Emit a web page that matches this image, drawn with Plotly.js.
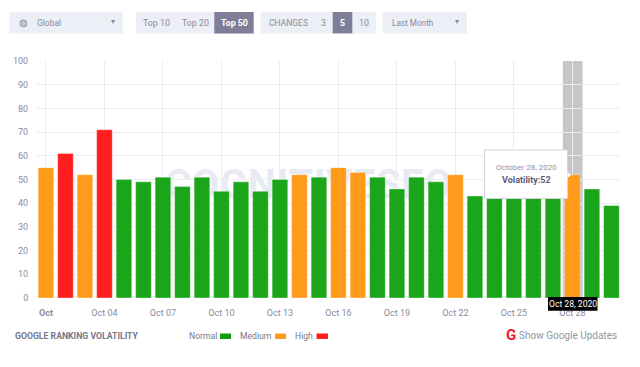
<!DOCTYPE html>
<html><head><meta charset="utf-8">
<script src="https://cdn.plot.ly/plotly-3.0.1.min.js"></script>
<style>html,body{margin:0;padding:0;background:#fff;overflow:hidden}
#wm{position:absolute;left:165px;top:160px;width:312px;font:700 40px/50px Roboto,sans-serif;color:#e9ebf4;white-space:nowrap;letter-spacing:0.6px}
#c{position:absolute;left:0;top:0;width:640px;height:367px}</style>
</head><body><div id="wm">COGNITIVESEO</div><div id="c"></div>
<script>
const days = ["Oct 01","Oct 02","Oct 03","Oct 04","Oct 05","Oct 06","Oct 07","Oct 08","Oct 09","Oct 10","Oct 11","Oct 12","Oct 13","Oct 14","Oct 15","Oct 16","Oct 17","Oct 18","Oct 19","Oct 20","Oct 21","Oct 22","Oct 23","Oct 24","Oct 25","Oct 26","Oct 27","Oct 28","Oct 29","Oct 30"];
const volatility = [55,61,52,71,50,49,51,47,51,45,49,45,50,52,51,55,53,51,46,51,49,52,43,43,44,44,45,52,46,39];
const tickDays = ["Oct 01","Oct 04","Oct 07","Oct 10","Oct 13","Oct 16","Oct 19","Oct 22","Oct 25","Oct 28"];
const tickLabels = ["<b>Oct</b>","Oct 04","Oct 07","Oct 10","Oct 13","Oct 16","Oct 19","Oct 22","Oct 25","Oct 28"];
const yTicks = [0,10,20,30,40,50,60,70,80,90,100];
const GREEN="#1aa51a", ORANGE="#ff9a1a", RED="#ff1f1f";
const level = v => v>=60 ? RED : v>=52 ? ORANGE : GREEN;
const FONT="Roboto, sans-serif";

const W=640,H=367,L=37,R=620,T=61,B=298;
const px=x=>(x-L)/(R-L), py=y=>(B-y)/(B-T);
function box(x0,y0,x1,y1,fill,line){return {type:"rect",xref:"paper",yref:"paper",x0:px(x0),x1:px(x1),y0:py(y0),y1:py(y1),fillcolor:fill,line:{width:line?1:0,color:line||fill},layer:"above"};}
function label(x,y,text,size,color,anchor,extra){return Object.assign({xref:"paper",yref:"paper",x:px(x),y:py(y),text:text,showarrow:false,xanchor:anchor||"center",yanchor:"middle",font:{family:FONT,size:size,color:color}},extra||{});}

const PANEL="#eceff6", DARK="#7e7e98", TXT="#8a8aa0";
const shapes=[
 {type:"rect",xref:"x",yref:"y",x0:26.51,x1:27.52,y0:0,y1:100,fillcolor:"rgba(120,120,120,0.42)",line:{width:0},layer:"below"},
 box(9.3,12,122.7,33.4,PANEL), box(136,12,253.7,33.4,PANEL), box(214.3,12,253.7,33.4,DARK),
 box(260.7,12,376,33.4,PANEL), box(332.7,12,352.3,33.4,DARK), box(382.7,12,467,33.4,PANEL),
 box(484.5,150,567.5,198.5,"#ffffff","#d3d3e2"),
 {type:"path",xref:"paper",yref:"paper",path:`M ${px(567.5)} ${py(172)} L ${px(571)} ${py(175)} L ${px(567.5)} ${py(178)} Z`,fillcolor:"#ffffff",line:{width:0},layer:"above"},
 box(548,297,597.5,310.7,"#000000"),
 box(220,333.5,231,339,"#0f9d0f"), box(275,333.5,286,339,ORANGE), box(316.5,333.5,328,339,RED)
];
const annotations=[
 label(23,22,"◍",10,"#8a8aa0"),
 label(34.5,23,"Global",8.5,TXT,"left"),
 label(113,21.5,"▾",8,TXT),
 label(156,23,"Top 10",8.8,TXT), label(195,23,"Top 20",8.8,TXT), label(234,23,"<b>Top 50</b>",8.8,"#ffffff"),
 label(288,23,"CHANGES",8.5,TXT), label(323,23,"3",8.8,TXT), label(342.5,23,"<b>5</b>",8.8,"#ffffff"), label(364,23,"10",8.8,TXT),
 label(389.5,22.5,"Last Month",8.2,TXT,"left"), label(457,21.5,"▾",8,TXT),
 label(526,167,"October 28, 2020",8,"#8f8fa3"),
 label(526,180,"<b>Volatility:52</b>",9,"#5c5c78"),
 label(572.7,304,"Oct 28, 2020",8.6,"#ffffff"),
 label(13,335.5,"<b>GOOGLE RANKING VOLATILITY</b>",8.7,"#77778a","left"),
 label(218.5,335.7,"Normal",8.6,"#77778a","right"),
 label(273,335.7,"Medium",8.6,"#77778a","right"),
 label(315,335.7,"High",8.6,"#77778a","right"),
 label(511,335,"<b>G</b>",15,"#ee1c25"),
 label(517,335.7,"Show Google Updates",10,"#8e99a4","left")
];
const trace={type:"bar",x:days,y:volatility,width:0.8,marker:{color:volatility.map(level),line:{color:"rgba(255,255,255,0.35)",width:1}},hoverinfo:"skip"};
const layout={
 width:W,height:H,margin:{l:L,r:W-R,t:T,b:H-B},paper_bgcolor:"rgba(0,0,0,0)",plot_bgcolor:"rgba(0,0,0,0)",showlegend:false,
 font:{family:FONT},
 xaxis:{type:"category",categoryorder:"array",categoryarray:days,range:[-0.46,29.44],tickmode:"array",tickvals:tickDays,ticktext:tickLabels,
   tickfont:{size:9,color:TXT,family:FONT},gridcolor:"#ebebf2",gridwidth:1,showgrid:true,zeroline:false,showline:false,ticks:"outside",ticklen:6,tickcolor:"rgba(0,0,0,0)",tickangle:0,automargin:false},
 yaxis:{range:[0,100],tickmode:"array",tickvals:yTicks,tickfont:{size:9,color:TXT,family:FONT},gridcolor:"#ebebf2",gridwidth:1,zeroline:false,showline:false,ticks:"outside",ticklen:6,tickcolor:"rgba(0,0,0,0)",automargin:false},
 shapes:shapes,annotations:annotations
};
Plotly.newPlot("c",[trace],layout,{displayModeBar:false,staticPlot:true});
</script></body></html>
